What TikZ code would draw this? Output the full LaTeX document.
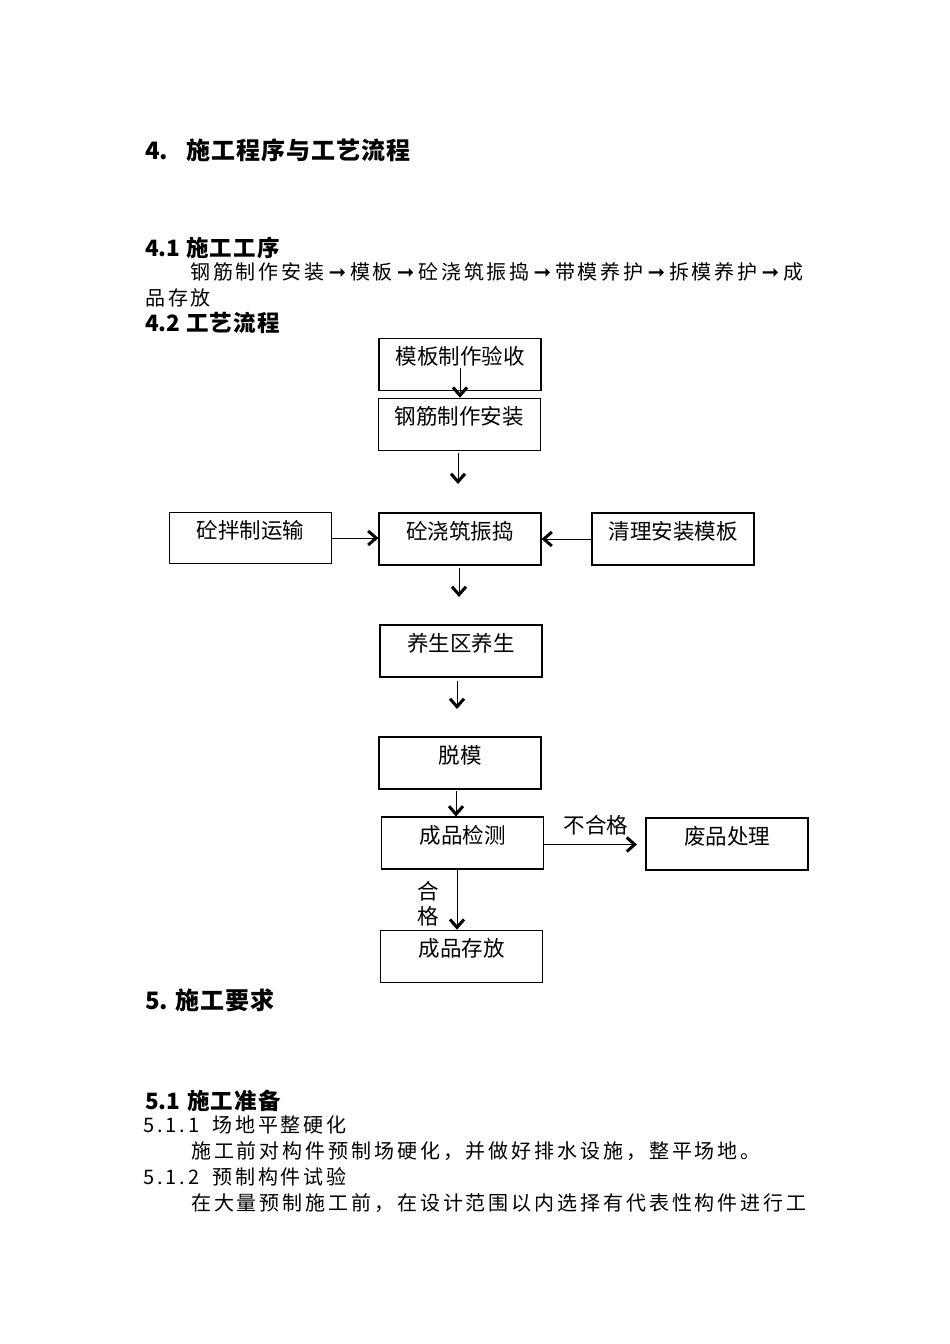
\documentclass[tikz,border=0pt]{standalone}
\usepackage{fontspec}
\setmainfont{Noto Sans CJK SC}
\newfontfamily\symf{DejaVu Sans}
\usetikzlibrary{arrows.meta}
\newdimen\sprsk
\def\spr#1{\ifx#1\relax\else#1\hskip\sprsk\relax\expandafter\spr\fi}
\newcommand\spaced[2]{\sprsk=#1\relax\spr#2\relax}
\newcommand\ar{\makebox[19.5pt]{\fontsize{21}{23}\symf\bfseries ➞}}
\tikzset{
  box/.style={draw, line width=1.1pt, inner sep=0pt, minimum width=162pt,
    text height=26pt, text depth=26pt, font=\fontsize{21.5}{26}\selectfont},
  flow/.style={line width=1pt, -{Straight Barb[length=8pt,width=14pt,line width=3pt]}},
  txt/.style={anchor=west, inner sep=0pt},
  hone/.style={txt, font=\fontsize{24}{28}\selectfont\bfseries},
  htwo/.style={txt, font=\fontsize{22.5}{27}\selectfont\bfseries},
  body/.style={txt, font=\fontsize{20}{23}\selectfont},
  lbl/.style={inner sep=0pt, font=\fontsize{21.5}{24.5}\selectfont, align=center}
}
\begin{document}
\begin{tikzpicture}[x=1pt,y=-1pt]
\useasboundingbox[fill=white] (0,0) rectangle (950,1344);

% text of the page
\node[hone] (h1) at (145,150) {\makebox[41pt][l]{4.}\spaced{1pt}{施工程序与工艺流程}};
\node[htwo] (h41) at (145,248) {\makebox[41pt][l]{4.1}\spaced{1.2pt}{施工工序}};
\node[body] (t1) at (190,272) {\spaced{2.9pt}{钢筋制作安装{\ar}模板{\ar}砼浇筑振捣{\ar}带模养护{\ar}拆模养护{\ar}成}};
\node[body] (t2) at (145,298) {\spaced{2.9pt}{品存放}};
\node[htwo] (h42) at (145,323) {\makebox[41pt][l]{4.2}\spaced{1.2pt}{工艺流程}};

\node[hone] (h5) at (145,1000) {\makebox[30pt][l]{5.}\spaced{1pt}{施工要求}};
\node[htwo] (h51) at (145,1101) {\makebox[42pt][l]{5.1}\spaced{1.2pt}{施工准备}};
\node[body] (t511) at (143,1125) {\makebox[69pt][l]{\spaced{3pt}{5.1.1}}\spaced{2.9pt}{场地平整硬化}};
\node[body] (t3) at (191,1151) {\spaced{2.9pt}{施工前对构件预制场硬化，并做好排水设施，整平场地。}};
\node[body] (t512) at (143,1177) {\makebox[69pt][l]{\spaced{3pt}{5.1.2}}\spaced{2.9pt}{预制构件试验}};
\node[body] (t4) at (191,1203) {\spaced{2.9pt}{在大量预制施工前，在设计范围以内选择有代表性构件进行工}};

% flow chart boxes
\node[box] (A) at (460,364.5) {模板制作验收};
\node[box] (B) at (459.3,424.2) {钢筋制作安装};
\node[box] (C) at (460,539) {砼浇筑振捣};
\node[box, text height=25.5pt, text depth=25.5pt] (L) at (250.5,538) {砼拌制运输};
\node[box] (R) at (673,539) {清理安装模板};
\node[box] (D) at (461,651) {养生区养生};
\node[box] (E) at (460,763) {脱模};
\node[box] (F) at (462.5,843) {成品检测};
\node[box] (W) at (727,844) {废品处理};
\node[box, text height=26.5pt] (G) at (461.7,956.5) {成品存放};

% connectors
\coordinate (ab) at (460,368);
\draw[flow] (ab) -- (ab |- B.north);
\coordinate (b1) at (458,453);
\coordinate (b2) at (458,484);
\draw[flow] (b1) -- (b2);
\draw[flow] (L.east) -- (L.east -| C.west);
\draw[flow] (R.west) -- (R.west -| C.east);
\coordinate (c1) at (459,568);
\coordinate (c2) at (459,597);
\draw[flow] (c1) -- (c2);
\coordinate (d1) at (457,681);
\coordinate (d2) at (457,709);
\draw[flow] (d1) -- (d2);
\coordinate (ef) at (456,791);
\draw[flow] (ef) -- (ef |- F.north);
\coordinate (fg) at (457,869);
\draw[flow] (fg) -- (fg |- G.north);
\coordinate (fw) at (637,844.5);
\draw[flow] (F.east |- fw) -- (fw);

\node[lbl] (nq) at (596,825) {不合格};
\node[lbl] (q) at (428,904) {合\\格};
\end{tikzpicture}
\end{document}
